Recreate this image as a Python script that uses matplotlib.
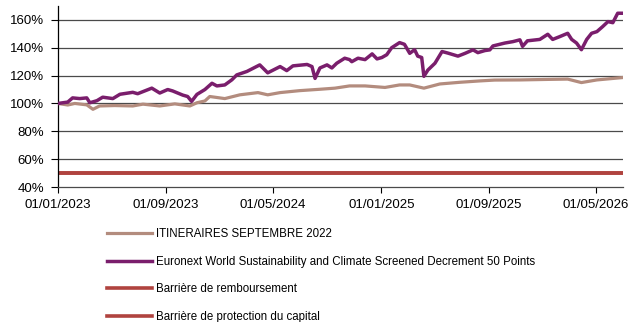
import matplotlib
matplotlib.use("Agg")
import matplotlib.pyplot as plt
import matplotlib.dates as mdates
import pandas as pd

plt.rcParams['font.family'] = ['Liberation Sans', 'DejaVu Sans']

# ---- data ----
itin_dates = ["2023-01-01", "2023-01-23", "2023-02-08", "2023-03-07", "2023-03-21", "2023-04-05",
              "2023-05-09", "2023-06-19", "2023-07-12", "2023-08-19", "2023-09-22", "2023-10-26",
              "2023-11-11", "2023-11-29", "2023-12-10", "2024-01-13", "2024-02-16", "2024-03-28",
              "2024-04-19", "2024-05-17", "2024-06-30", "2024-08-15", "2024-09-18", "2024-10-21",
              "2024-11-25", "2025-01-09", "2025-02-11", "2025-03-06", "2025-04-07", "2025-05-13",
              "2025-06-27", "2025-08-12", "2025-09-14", "2025-11-10", "2026-01-16", "2026-02-26",
              "2026-03-29", "2026-05-03", "2026-06-30"]
itin_values = [100.0, 98.9, 100.0, 99.0, 95.8, 98.2,
               98.5, 98.2, 99.5, 98.2, 99.7, 98.2,
               100.5, 101.8, 105.0, 103.5, 106.2, 107.8,
               106.2, 107.8, 109.2, 110.2, 111.0, 112.6,
               112.6, 111.5, 113.3, 113.3, 111.0, 114.0,
               115.2, 116.2, 116.8, 116.9, 117.3, 117.5,
               115.0, 116.9, 118.6]

idx_dates = ["2023-01-01", "2023-01-23", "2023-02-03", "2023-02-19", "2023-03-07", "2023-03-14",
             "2023-03-30", "2023-04-12", "2023-05-05", "2023-05-21", "2023-06-19", "2023-06-30",
             "2023-07-12", "2023-08-01", "2023-08-19", "2023-09-06", "2023-09-17", "2023-10-10",
             "2023-10-21", "2023-10-30", "2023-11-11", "2023-11-29", "2023-12-15", "2023-12-26",
             "2024-01-13", "2024-01-29", "2024-02-09", "2024-03-03", "2024-04-01", "2024-04-19",
             "2024-05-17", "2024-06-01", "2024-06-15", "2024-07-17", "2024-07-28", "2024-08-04",
             "2024-08-15", "2024-08-31", "2024-09-11", "2024-09-22", "2024-10-10", "2024-10-21",
             "2024-10-26", "2024-11-09", "2024-11-25", "2024-12-11", "2024-12-22", "2025-01-02",
             "2025-01-13", "2025-01-24", "2025-02-11", "2025-02-22", "2025-03-06", "2025-03-17",
             "2025-03-24", "2025-04-02", "2025-04-07", "2025-04-16", "2025-05-02", "2025-05-18",
             "2025-05-31", "2025-06-23", "2025-07-09", "2025-07-27", "2025-08-07", "2025-08-23",
             "2025-09-03", "2025-09-10", "2025-09-19", "2025-10-07", "2025-10-25", "2025-11-10",
             "2025-11-16", "2025-11-27", "2025-12-25", "2026-01-12", "2026-01-23", "2026-02-08",
             "2026-02-26", "2026-03-07", "2026-03-18", "2026-03-29", "2026-04-10", "2026-04-21",
             "2026-05-03", "2026-05-16", "2026-05-28", "2026-06-08", "2026-06-19", "2026-06-30"]
idx_values = [100.0, 101.0, 104.0, 103.5, 104.0, 100.5,
              102.0, 104.5, 103.5, 106.6, 108.0, 107.0,
              108.5, 111.0, 107.5, 110.0, 109.0, 106.0,
              105.0, 101.5, 106.5, 110.0, 114.5, 112.6,
              113.3, 117.0, 120.5, 123.0, 127.7, 122.0,
              126.5, 123.6, 127.0, 128.0, 126.5, 118.0,
              125.5, 127.7, 125.5, 128.9, 132.5, 131.5,
              130.0, 132.5, 131.5, 135.6, 132.0, 133.0,
              135.0, 140.0, 143.7, 142.5, 136.0, 138.6,
              134.0, 133.0, 119.5, 124.0, 128.9, 137.3,
              136.2, 134.0, 136.0, 138.5, 136.5, 138.0,
              138.5, 141.3, 142.0, 143.4, 144.4, 145.7,
              141.0, 145.0, 146.0, 149.7, 146.0, 148.0,
              150.4, 146.0, 143.4, 138.6, 146.0, 150.4,
              151.6, 155.2, 158.8, 158.0, 164.8, 164.8]

barrier_dates = ["2023-01-01", "2026-06-30"]
barrier_remb = [50, 50]
barrier_prot = [50, 50]

labels = ["ITINERAIRES SEPTEMBRE 2022",
          "Euronext World Sustainability and Climate Screened Decrement 50 Points",
          "Barrière de remboursement",
          "Barrière de protection du capital"]

x_ticks = ["2023-01-01", "2023-09-01", "2024-05-01", "2025-01-01", "2025-09-01", "2026-05-01"]
y_ticks = [40, 60, 80, 100, 120, 140, 160]

# ---- plot ----
fig = plt.figure(figsize=(6.43, 3.22), dpi=100)
ax = fig.add_axes([58/643, 1-187/322, (623-58)/643, (187-6)/322])

c_itin = "#B38C7E"
c_idx = "#7A1E6C"
c_bar = "#B0433F"

for y in y_ticks[1:]:
    ax.axhline(y, color="#4a4a4a", lw=0.9, zorder=1)

l4, = ax.plot(pd.to_datetime(barrier_dates), barrier_prot, color=c_bar, lw=2.6, label=labels[3], zorder=2)
l3, = ax.plot(pd.to_datetime(barrier_dates), barrier_remb, color=c_bar, lw=2.6, label=labels[2], zorder=2)
l1, = ax.plot(pd.to_datetime(itin_dates), itin_values, color=c_itin, lw=2.3, label=labels[0], zorder=3)
l2, = ax.plot(pd.to_datetime(idx_dates), idx_values, color=c_idx, lw=2.5, label=labels[1], zorder=4)

ax.set_ylim(40, 170)
ax.set_xlim(pd.Timestamp("2023-01-01"), pd.Timestamp("2026-07-01"))
ax.set_yticks(y_ticks)
ax.set_yticklabels([f"{v}%" for v in y_ticks])
ax.set_xticks(pd.to_datetime(x_ticks))
ax.xaxis.set_major_formatter(mdates.DateFormatter("%d/%m/%Y"))

for s in ["top", "right"]:
    ax.spines[s].set_visible(False)
ax.spines["left"].set_color("#000000")
ax.spines["left"].set_linewidth(0.9)
ax.spines["bottom"].set_color("#4a4a4a")
ax.spines["bottom"].set_linewidth(0.9)

ax.tick_params(axis="y", labelsize=9.5, color="#000000", length=5, width=0.8, pad=5)
ax.tick_params(axis="x", labelsize=9.5, color="#000000", length=4, width=0.8, pad=5)

leg = fig.legend([l1, l2, l3, l4], labels, loc="upper left",
                 bbox_to_anchor=(107/643, 1-228/322), frameon=False,
                 fontsize=8.3, handlelength=3.9, handletextpad=0.35,
                 labelspacing=1.35, borderpad=0, borderaxespad=0)

fig.savefig("out.png", dpi=100)
